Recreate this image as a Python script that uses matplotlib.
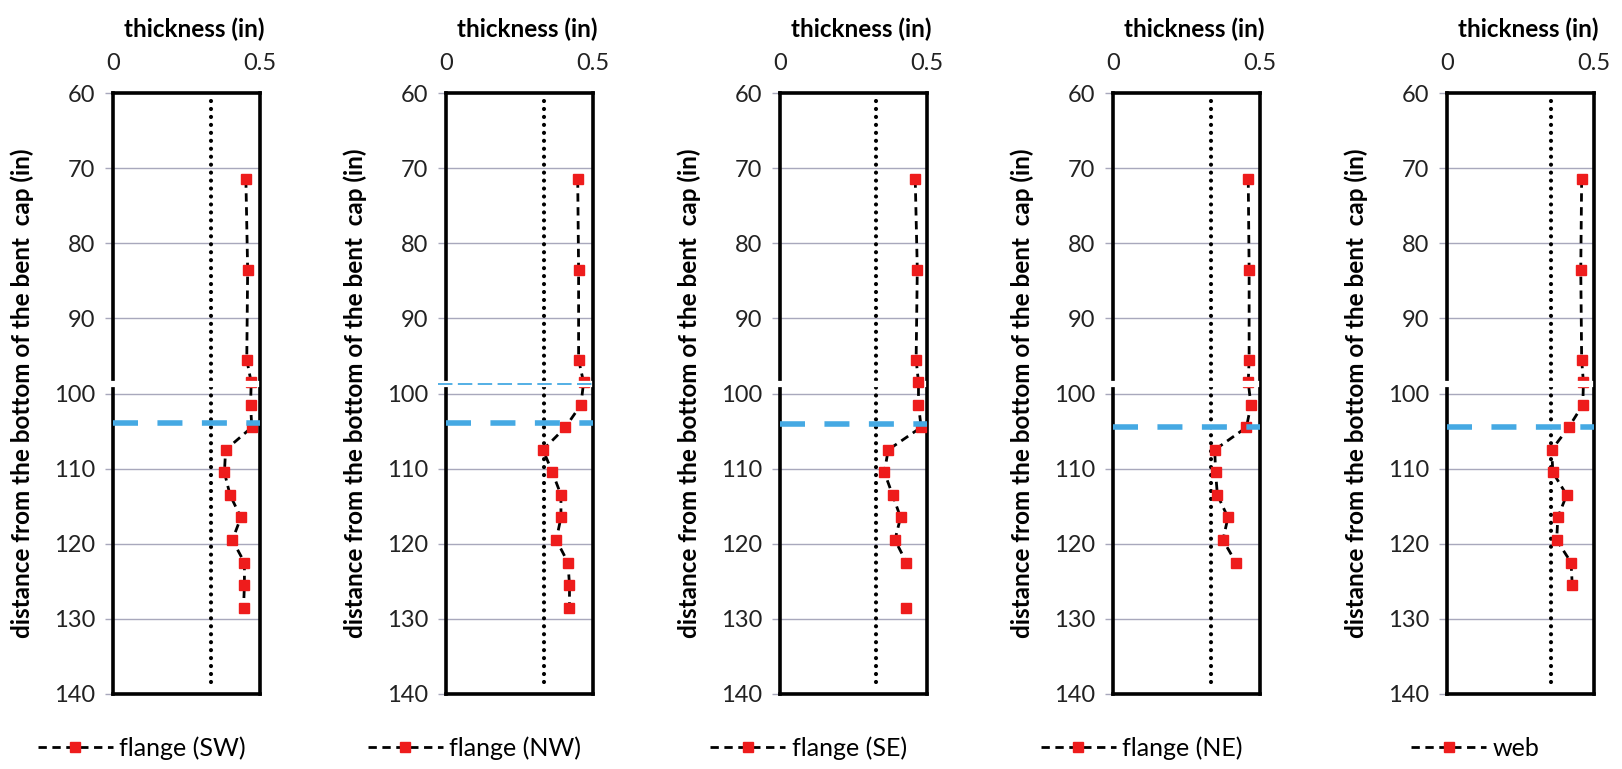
import numpy as np
import matplotlib.pyplot as plt

plt.rcParams['font.family'] = ['Lato', 'DejaVu Sans']

nan = np.nan
depth = [71.5, 83.5, 95.5, 98.5, 101.5, 104.5, 107.5, 110.5, 113.5, 116.5, 119.5, 122.5, 125.5, 128.5]

sw = [0.452, 0.458, 0.455, 0.470, 0.468, 0.472, 0.383, 0.379, 0.398, 0.435, 0.406, 0.447, 0.447, 0.444]
nw = [0.448, 0.451, 0.451, 0.468, 0.459, 0.406, 0.330, 0.362, 0.391, 0.391, 0.375, 0.415, 0.420, 0.420]
se = [0.460, 0.467, 0.463, 0.471, 0.471, 0.480, 0.368, 0.355, 0.383, 0.410, 0.391, 0.430, nan, 0.429]
ne = [0.460, 0.463, 0.463, 0.460, 0.469, 0.454, 0.346, 0.349, 0.355, 0.391, 0.374, 0.418, nan, nan]
web = [0.458, 0.455, 0.458, 0.464, 0.462, 0.414, 0.356, 0.360, 0.407, 0.377, 0.373, 0.422, 0.426, nan]

series = [sw, nw, se, ne, web]
labels = ["flange (SW)", "flange (NW)", "flange (SE)", "flange (NE)", "web"]
limit_x = [0.332, 0.332, 0.326, 0.332, 0.355]   # dotted vertical line
blue_y = [103.9, 103.9, 104.0, 104.4, 104.4]    # dashed blue horizontal
gap_y = 98.7

W, H = 1622, 769
fig = plt.figure(figsize=(W / 100, H / 100), dpi=100)
lefts = [113, 446, 780, 1113, 1447]
top_px, bot_px, wid_px = 93, 694, 147

blue = "#45a9e3"

for i in range(5):
    ax = fig.add_axes([lefts[i] / W, 1 - bot_px / H, wid_px / W, (bot_px - top_px) / H])
    ax.set_xlim(0, 0.5)
    ax.set_ylim(140, 60)
    ax.set_yticks(range(60, 141, 10))
    ax.set_xticks([0, 0.5])
    ax.set_xticklabels(["0", "0.5"])
    ax.xaxis.tick_top()
    ax.xaxis.set_label_position("top")
    ax.tick_params(axis="x", length=0, pad=14, labelsize=17, colors="#222222")
    ax.tick_params(axis="y", length=6, width=1, color="#a8a8bc", pad=7, labelsize=17, labelcolor="#222222")
    for y in range(70, 140, 10):
        ax.axhline(y, color="#a8a8bc", lw=1, zorder=1)
    for s in ax.spines.values():
        s.set_linewidth(2.6)
        s.set_color("black")

    ax.set_title("thickness (in)", fontsize=17.5, fontweight="bold", pad=40, x=0.55)
    ax.set_ylabel("distance from the bottom of the bent  cap (in)", fontsize=17.5, fontweight="bold")
    ax.yaxis.set_label_coords(-0.54, 0.5)

    ax.plot([limit_x[i], limit_x[i]], [61, 138.7], color="black", lw=3,
            linestyle=(0, (0.01, 1.9)), dash_capstyle="round", zorder=2)

    ax.plot(series[i], depth, color="black", lw=2, linestyle=(0, (3, 2)),
            marker="s", markersize=6.5, markerfacecolor="#ee1c1c",
            markeredgecolor="#ee1c1c", label=labels[i], zorder=3)

    ax.axhline(blue_y[i], color=blue, lw=4, linestyle=(0, (4.5, 3.5)), zorder=3.5)

    # white break across the frame around 99 in
    zw = 2.8 if i == 2 else 4
    ax.plot([-0.03, 0.485], [gap_y, gap_y], color="white", lw=4.5, clip_on=False, zorder=zw)
    if i == 1:
        ax.plot([-0.027, 0.5], [gap_y, gap_y], color=blue, lw=1.3,
                linestyle=(0, (8, 3)), clip_on=False, zorder=4.5)

    cx = (lefts[i] + wid_px / 2 - 45) / W
    ax.legend(loc="center", bbox_to_anchor=(cx, 1 - 748 / H), bbox_transform=fig.transFigure,
              frameon=False, fontsize=18, handlelength=3.0, handletextpad=0.25)

fig.savefig("out.png", dpi=100, facecolor="white")
